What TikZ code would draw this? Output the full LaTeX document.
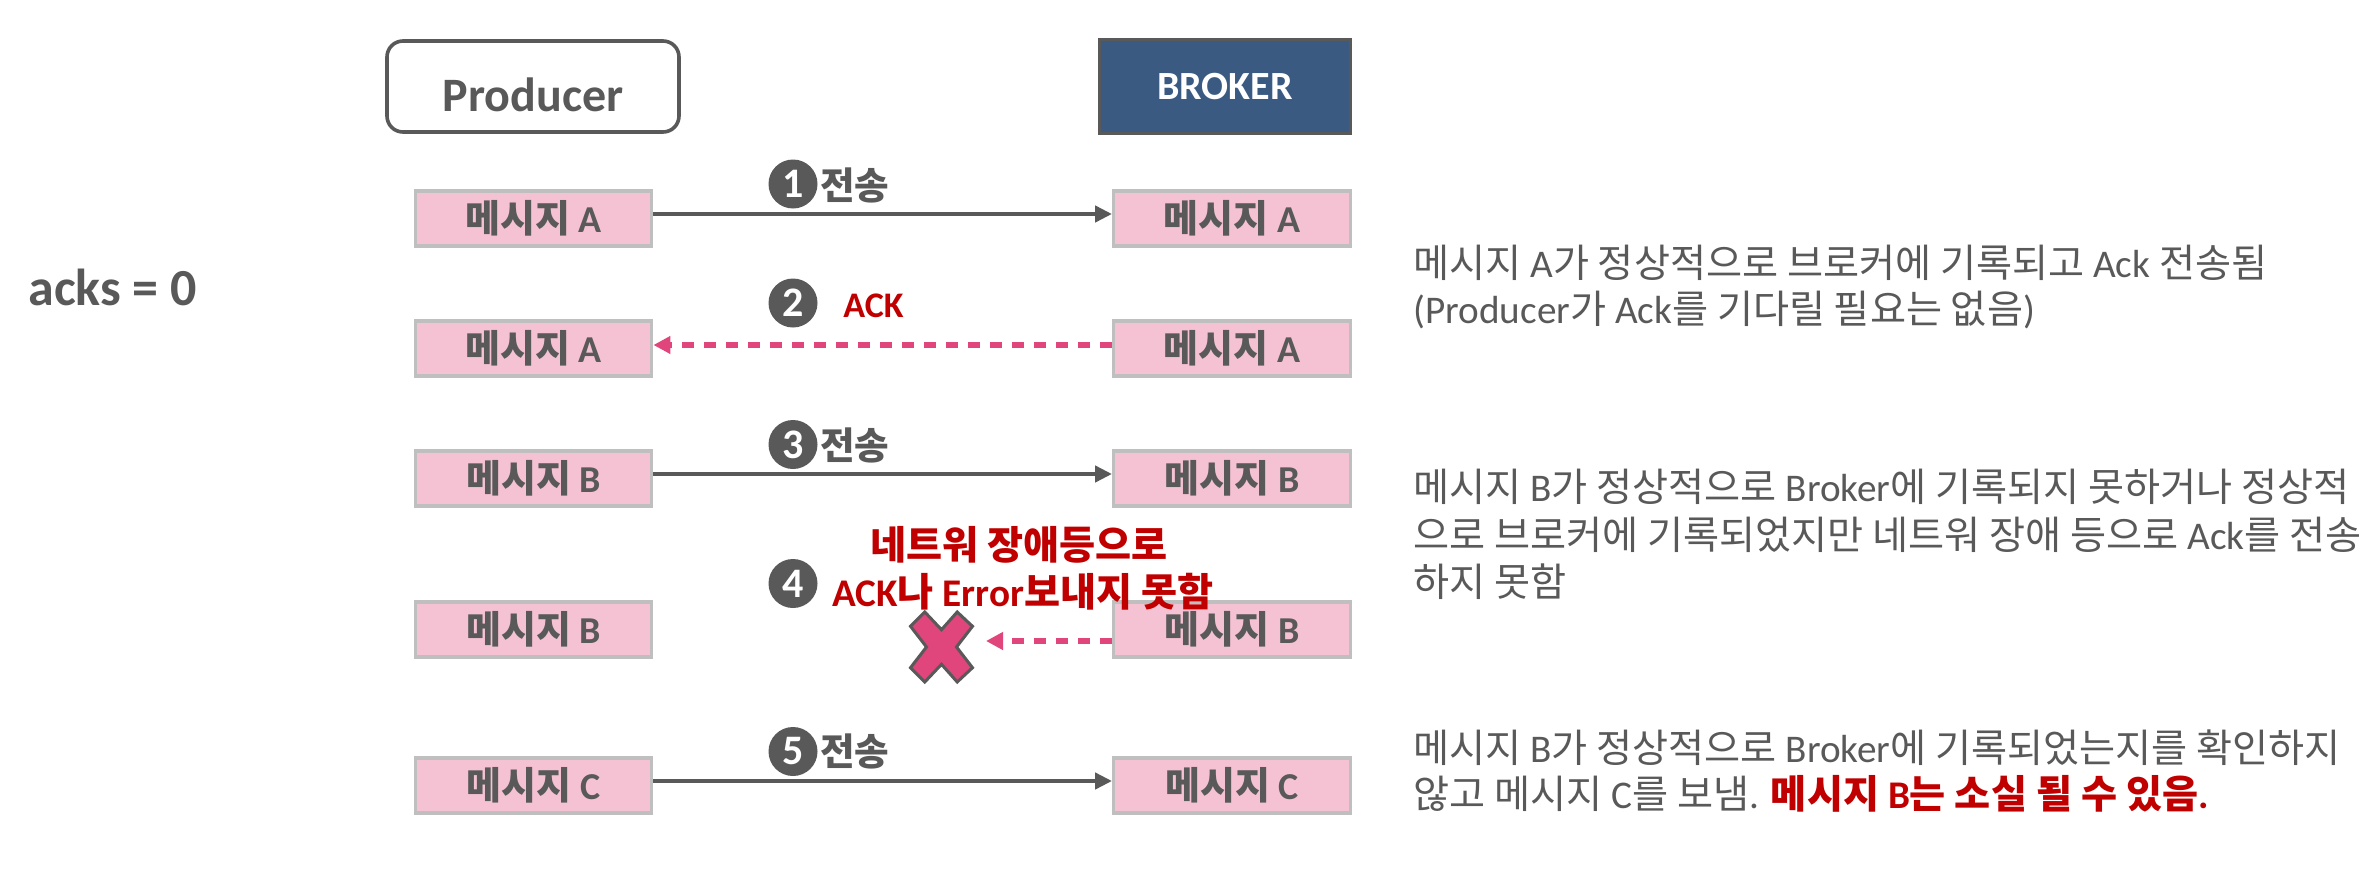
\documentclass[tikz,border=0pt]{standalone}
\usepackage{fontspec}
\setmainfont{Carlito}
\newfontfamily\kr{Noto Sans CJK KR}
\newcommand\hg[1]{{\kr #1}}
\usetikzlibrary{arrows.meta}

\definecolor{txtgray}{HTML}{595959}
\definecolor{msgfill}{HTML}{F5C2D3}
\definecolor{msgborder}{HTML}{BFBFBF}
\definecolor{brokerfill}{HTML}{3B5A82}
\definecolor{darkred}{HTML}{C00000}
\definecolor{ackpink}{HTML}{E0457B}

\tikzset{
  msg/.style={draw=msgborder, line width=1.65pt, fill=msgfill, minimum width=118.3pt,
    minimum height=27.4pt, inner sep=0pt, text=txtgray,
    font=\fontsize{19pt}{22pt}\selectfont\bfseries},
  prodbox/.style={draw=txtgray, line width=1.8pt, rounded corners=8pt, fill=white,
    minimum width=146pt, minimum height=45.5pt, inner sep=0pt},
  brokerbox/.style={draw=txtgray, line width=1.65pt, fill=brokerfill, minimum width=125.3pt,
    minimum height=46.8pt, inner sep=0pt, text=white,
    font=\fontsize{20pt}{24pt}\selectfont\bfseries},
  stepnum/.style={circle, fill=txtgray, minimum size=24.5pt, inner sep=0pt, text=white,
    font=\fontsize{21pt}{24pt}\selectfont\bfseries},
  steplbl/.style={anchor=west, inner sep=0pt, text=txtgray,
    font=\fontsize{18.8pt}{22pt}\selectfont\bfseries},
  redlbl/.style={inner sep=0pt, text=darkred, font=\fontsize{19.6pt}{23pt}\selectfont\bfseries},
  sendarrow/.style={draw=txtgray, line width=2.3pt, -{Triangle[length=8.5pt,width=8pt]}},
  ackarrow/.style={draw=ackpink, line width=3pt, dash pattern=on 6pt off 5pt,
    -{Triangle[length=8.5pt,width=8.5pt]}},
  desc/.style={anchor=base west, inner sep=0pt, text=txtgray,
    font=\fontsize{19.6pt}{23pt}\selectfont},
  xmark/.style={fill=ackpink, draw=txtgray, line width=1.5pt, line join=miter},
  bigtitle/.style={inner sep=0pt, text=txtgray, font=\fontsize{24pt}{28pt}\selectfont\bfseries},
}

\begin{document}
\begin{tikzpicture}[x=0.5pt,y=-0.5pt]
\path[fill=white] (0,0) rectangle (2374,878);
\useasboundingbox (0,0) rectangle (2374,878);

% left title
\node[anchor=base west, inner sep=0pt, text=txtgray,
  font=\fontsize{26pt}{30pt}\selectfont\bfseries] (acks) at (28,305) {acks = 0};

% headers
\node[prodbox] (prod) at (533,86.5) {};
\node[bigtitle, anchor=base] (prodlbl) at (533,111.5) {Producer};
\node[brokerbox] (broker) at (1225,86.5) {BROKER};

% message boxes
\node[msg] (a1) at (533.5,218.5) {\hg{메시지} A};
\node[msg] (b1) at (1232,218.5) {\hg{메시지} A};
\node[msg] (a2) at (533.5,348.5) {\hg{메시지} A};
\node[msg] (b2) at (1232,348.5) {\hg{메시지} A};
\node[msg] (a3) at (533.5,478.5) {\hg{메시지} B};
\node[msg] (b3) at (1232,478.5) {\hg{메시지} B};
\node[msg] (a4) at (533.5,629.5) {\hg{메시지} B};
\node[msg] (b4) at (1232,629.5) {\hg{메시지} B};
\node[msg] (a5) at (533.5,785.5) {\hg{메시지} C};
\node[msg] (b5) at (1232,785.5) {\hg{메시지} C};

% connectors
\draw[sendarrow] ([yshift=2.25pt]a1.east) -- ([yshift=2.25pt]b1.west);
\draw[ackarrow] ([yshift=1.75pt]b2.west) -- ([yshift=1.75pt]a2.east);
\draw[sendarrow] ([yshift=2.25pt]a3.east) -- ([yshift=2.25pt]b3.west);
\coordinate (lost) at (986,641);
\draw[ackarrow] (b4.west |- lost) -- (lost);
\draw[sendarrow] ([yshift=2.25pt]a5.east) -- ([yshift=2.25pt]b5.west);

% step markers
\node[stepnum] (s1) at (793,184) {1};
\node[steplbl] (l1) at (820,185) {\hg{전송}};
\node[stepnum] (s2) at (793,303) {2};
\node[redlbl, anchor=west, font=\fontsize{18pt}{22pt}\selectfont\bfseries] (l2) at (843,306) {ACK};
\node[stepnum] (s3) at (793,444.5) {3};
\node[steplbl] (l3) at (820,445) {\hg{전송}};
\node[stepnum] (s4) at (793,583.5) {4};
\node[stepnum] (s5) at (793,751.5) {5};
\node[steplbl] (l5) at (820,751.5) {\hg{전송}};

% failure text and cross
\node[redlbl, anchor=base] (l4a) at (1019,559) {\hg{네트워 장애등으로}};
\node[redlbl, anchor=base] (l4b) at (1023,606) {ACK\hg{나} Error\hg{보내지 못함}};
\begin{scope}[shift={(941.5,647)}]
\draw[xmark] (-31,-20.7) -- (-16.7,-35) -- (0,-17.3) -- (15.7,-35) -- (31,-20.7)
  -- (15,0) -- (31,20.7) -- (15.7,35) -- (0,17.3) -- (-16.7,35) -- (-31,20.7)
  -- (-15,0) -- cycle;
\end{scope}

% descriptions
\node[desc] (d1a) at (1413,277) {\hg{메시지} A\hg{가 정상적으로 브로커에 기록되고} Ack \hg{전송됨}};
\node[desc] (d1b) at (1413,323) {(Producer\hg{가} Ack\hg{를 기다릴 필요는 없음})};
\node[desc] (d2a) at (1413,501) {\hg{메시지} B\hg{가 정상적으로} Broker\hg{에 기록되지 못하거나 정상적}};
\node[desc] (d2b) at (1413,549) {\hg{으로 브로커에 기록되었지만 네트워 장애 등으로} Ack\hg{를 전송}};
\node[desc] (d2c) at (1413,596) {\hg{하지 못함}};
\node[desc] (d3a) at (1413,762) {\hg{메시지} B\hg{가 정상적으로} Broker\hg{에 기록되었는지를 확인하지}};
\node[desc] (d3b) at (1413,808) {\hg{않고 메시지} C\hg{를 보냄}. {\color{darkred}\bfseries\hg{메시지} B\hg{는 소실 될 수 있음}.}};
\end{tikzpicture}
\end{document}
